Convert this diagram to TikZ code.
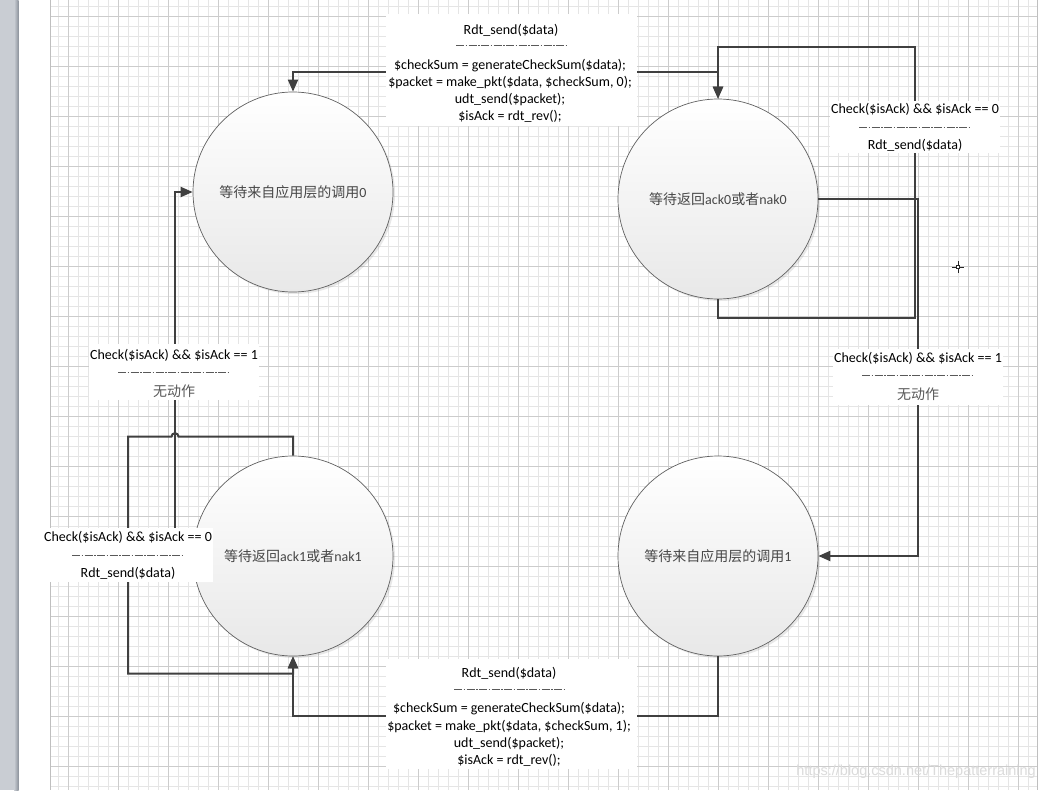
\documentclass[tikz,border=0pt]{standalone}
\usepackage{fontspec}
\setmainfont{Carlito}
\newfontfamily\cjk{Noto Sans CJK SC}
\newfontfamily\wmfont{Liberation Sans}
\usetikzlibrary{arrows.meta,calc,shadows}
\definecolor{stripgray}{RGB}{201,205,211}
\definecolor{stripdark}{RGB}{140,147,156}
\definecolor{linegray}{RGB}{64,64,64}
\begin{document}
\begin{tikzpicture}[x=1pt,y=-1pt,
  gridminor/.style={draw=black!10, line width=0.6pt},
  gridmajor/.style={draw=black!20, line width=0.7pt},
  conn/.style={draw=linegray, line width=2pt},
  endtip/.style={-{Triangle[length=12pt,width=10pt]}},
  bothtip/.style={{Triangle[length=12pt,width=10pt]}-{Triangle[length=12pt,width=10pt]}},
  state/.style={circle, draw=black!62, line width=0.7pt, minimum size=200pt, inner sep=0pt,
    top color=white, bottom color=black!9,
    drop shadow={shadow xshift=2pt, shadow yshift=-2pt, opacity=0.18},
    font=\fontsize{14}{17}\selectfont, text=black!72},
  lblbox/.style={fill=white, draw=none, inner sep=0pt},
  ltext/.style={font=\fontsize{14}{17.2}\selectfont, align=center, text=black, inner sep=0pt},
  ctext/.style={font=\cjk\fontsize{14}{17}\selectfont, text=black!65, inner sep=0pt},
  sepline/.style={draw=black!65, line width=0.7pt, dash pattern=on 8pt off 1.5pt on 1.5pt off 1.5pt}
]
\useasboundingbox (0,0) rectangle (1044,790);
% page background
\fill[white] (0,0) rectangle (1044,790);
\fill[stripgray] (0,0) rectangle (14,790);
\shade[left color=stripgray, right color=stripdark] (14,0) rectangle (18.5,790);
% grid
\foreach \x in {58,68,...,1028} \draw[gridminor] (\x,0) -- (\x,790);
\foreach \y in {6.5,16.5,...,786.5} \draw[gridminor] (50,\y) -- (1037,\y);
\foreach \x in {68,118,...,1018} \draw[gridmajor] (\x,0) -- (\x,790);
\foreach \y in {16.5,66.5,...,766.5} \draw[gridmajor] (50,\y) -- (1037,\y);
\draw[draw=black!25, line width=0.8pt] (50,0) -- (50,790);
\draw[draw=black!25, line width=0.8pt] (1037,0) -- (1037,790);

% states
\node[state] (A) at (293,192) {{\cjk 等待来自应用层的调用}0};
\node[state] (B) at (718,199) {{\cjk 等待返回}ack0{\cjk 或者}nak0};
\node[state] (C) at (293,556) {{\cjk 等待返回}ack1{\cjk 或者}nak1};
\node[state] (D) at (718,556) {{\cjk 等待来自应用层的调用}1};

% connectors
\draw[conn,bothtip] (A.north) -- ++(0,-20) -| (B.north);
\draw[conn,endtip] (B.south) -- ++(0,19) -- ++(197,0) -- ++(0,-271) -- ++(-197,0) -- (B.north);
\draw[conn,endtip] (B.east) -- ++(100,0) |- (D.east);
\draw[conn,endtip] (D.south) -- ++(0,60) -| (C.south);
\draw[conn,endtip] (C.north) -- ++(0,-19) -- ++(-114.5,0)
  arc[start angle=0, end angle=180, radius=3.5pt] -- ++(-43.5,0) -- ++(0,237) -| (C.south);
\draw[conn,endtip] (C.west) -- ++(-18,0) |- (A.west);

% label: A -> B (top)
\node[lblbox, minimum width=251pt, minimum height=112pt] (L1) at (511,70) {};
\node[ltext] (L1a) at (511,30) {Rdt\_send(\$data)};
\draw[sepline] ($(L1a)+(-55,15)$) -- ++(110,0);
\node[ltext] (L1b) at (510,91) {\$checkSum = generateCheckSum(\$data);\\\$packet = make\_pkt(\$data, \$checkSum, 0);\\udt\_send(\$packet);\\\$isAck = rdt\_rev();};

% label: B self loop
\node[lblbox, minimum width=170pt, minimum height=52pt] (L2) at (915,127) {};
\node[ltext] (L2a) at (915,109) {Check(\$isAck) \&\& \$isAck == 0};
\draw[sepline] ($(L2)+(-56,0)$) -- ++(112,0);
\node[ltext] (L2b) at (915,145) {Rdt\_send(\$data)};

% label: B -> D
\node[lblbox, minimum width=170pt, minimum height=56pt] (L3) at (918,377) {};
\node[ltext] (L3a) at (918,358) {Check(\$isAck) \&\& \$isAck == 1};
\draw[sepline] ($(L3)+(-56,-2)$) -- ++(112,0);
\node[ctext] (L3b) at (918,394) {无动作};

% label: C -> A
\node[lblbox, minimum width=170pt, minimum height=56pt] (L4) at (174,372) {};
\node[ltext] (L4a) at (174,355) {Check(\$isAck) \&\& \$isAck == 1};
\draw[sepline] ($(L4)+(-56,0)$) -- ++(112,0);
\node[ctext] (L4b) at (174,391) {无动作};

% label: C self loop
\node[lblbox, minimum width=170pt, minimum height=54pt] (L5) at (128,555) {};
\node[ltext] (L5a) at (128,537) {Check(\$isAck) \&\& \$isAck == 0};
\draw[sepline] ($(L5)+(-56,0)$) -- ++(112,0);
\node[ltext] (L5b) at (128,573) {Rdt\_send(\$data)};

% label: D -> C (bottom)
\node[lblbox, minimum width=251pt, minimum height=110pt] (L6) at (511,714) {};
\node[ltext] (L6a) at (509,673) {Rdt\_send(\$data)};
\draw[sepline] ($(L6a)+(-55,16)$) -- ++(110,0);
\node[ltext] (L6b) at (509,734.5) {\$checkSum = generateCheckSum(\$data);\\\$packet = make\_pkt(\$data, \$checkSum, 1);\\udt\_send(\$packet);\\\$isAck = rdt\_rev();};

% cursor mark
\draw[black!85, line width=0.9pt] (952,267) -- (964,267) (958,261) -- (958,273);
\filldraw[fill=white, draw=black!85, line width=0.6pt] (956.5,265.5) rectangle (959.5,268.5);

% watermark
\node[font=\wmfont\fontsize{14.5}{16}\selectfont, text=black!14, anchor=east, inner sep=0pt] (wm) at (1036,772) {https://blog.csdn.net/Thepatterraining};
\end{tikzpicture}
\end{document}
